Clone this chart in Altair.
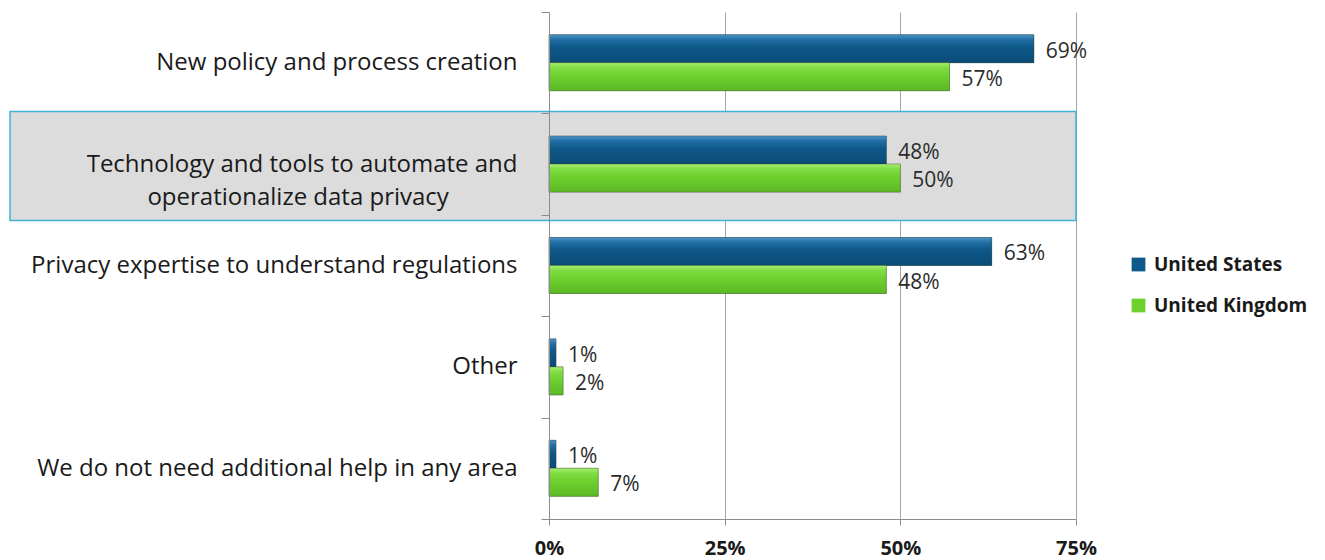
import altair as alt
import pandas as pd

categories = [
    "New policy and process creation",
    "Technology and tools to automate and|operationalize data privacy",
    "Privacy expertise to understand regulations",
    "Other",
    "We do not need additional help in any area",
]
us_values = [69, 48, 63, 1, 1]
uk_values = [57, 50, 48, 2, 7]
series = ["United States", "United Kingdom"]
colors = ["#0f5a8a", "#6fd12f"]
x_ticks = [0, 25, 50, 75]
highlight = "Technology and tools to automate and|operationalize data privacy"

rows = []
for c, u, k in zip(categories, us_values, uk_values):
    rows.append({"category": c, "series": series[0], "value": u})
    rows.append({"category": c, "series": series[1], "value": k})
df = pd.DataFrame(rows)
df["label"] = df["value"].astype(str) + "%"

FS = "\u2007"
ZW = "\u200b"
label_expr = (
    "indexof(datum.label, '|') >= 0 ? "
    "[split(datum.label, '|')[0], split(datum.label, '|')[1] + '" + FS * 5 + ZW + "'] : datum.label"
)

y_scale = alt.Scale(domain=categories, paddingInner=0, paddingOuter=0)
x_scale = alt.Scale(domain=[0, 75], nice=False)

y_axis = alt.Axis(
    title=None,
    tickBand="extent",
    tickSize=8,
    tickColor="#8c8c8c",
    domainColor="#8c8c8c",
    labelPadding=24,
    labelFont="Open Sans",
    labelFontSize=24,
    labelColor="#1a1a1a",
    labelLimit=700,
    labelExpr=label_expr,
    labelLineHeight=33,
    grid=False,
)
x_axis = alt.Axis(
    title=None,
    values=x_ticks,
    format="d",
    labelExpr="datum.value + '%'",
    labelFlush=False,
    labelOverlap=False,
    tickSize=6,
    tickColor="#8c8c8c",
    domainColor="#8c8c8c",
    gridColor="#a6a6a6",
    labelFont="Open Sans",
    labelFontSize=20,
    labelFontWeight="bold",
    labelColor="#1a1a1a",
    labelPadding=13,
)

hl_df = pd.DataFrame({"category": [highlight]})
box = alt.Chart(hl_df).mark_rect(
    fill="#dcdcdc", stroke="#3fb2d6", strokeWidth=1.5, height=109, yOffset=2
).encode(
    y=alt.Y("category:N", scale=y_scale, axis=y_axis, sort=categories),
    x=alt.value(-539),
    x2=alt.value(527),
)

yoff = alt.YOffset("series:N", sort=series,
                   scale=alt.Scale(paddingInner=0, paddingOuter=0.81))

base = alt.Chart(df)
bars = base.mark_bar(stroke="#2d3b2a", strokeOpacity=0.3, strokeWidth=1).encode(
    y=alt.Y("category:N", scale=y_scale, axis=y_axis, sort=categories),
    x=alt.X("value:Q", scale=x_scale, axis=x_axis),
    yOffset=yoff,
    color=alt.Color(
        "series:N",
        sort=series,
        scale=alt.Scale(domain=series, range=colors),
        legend=alt.Legend(
            title=None,
            orient="none",
            legendX=580,
            legendY=243,
            symbolType="square",
            symbolSize=190,
            symbolStrokeWidth=0,
            labelFont="Open Sans",
            labelFontSize=19,
            labelFontWeight="bold",
            labelColor="#1a1a1a",
            rowPadding=21,
            labelOffset=6,
        ),
    ),
)


def gradient(stops):
    return alt.Gradient(
        gradient="linear", x1=0, y1=0, x2=0, y2=1,
        stops=[alt.GradientStop(offset=o, color=c) for o, c in stops],
    )


us_grad = gradient([(0, "#4a94c8"), (0.18, "#1f6ea4"), (0.45, "#0e5888"), (1, "#0b4b76")])
uk_grad = gradient([(0, "#a8ee70"), (0.18, "#80dc44"), (0.45, "#6fd12f"), (1, "#5cb826")])

shade_layers = []
for s, g in zip(series, [us_grad, uk_grad]):
    shade_layers.append(
        base.transform_filter(alt.datum.series == s)
        .mark_bar(fill=g, stroke="#2d3b2a", strokeOpacity=0.3, strokeWidth=1)
        .encode(
            y=alt.Y("category:N", scale=y_scale, axis=y_axis, sort=categories),
            x=alt.X("value:Q", scale=x_scale, axis=x_axis),
            yOffset=yoff,
        )
    )

texts = base.mark_text(
    align="left", baseline="middle", dx=12, dy=3, font="Open Sans", fontSize=21, color="#2b2b2b"
).encode(
    y=alt.Y("category:N", scale=y_scale, axis=y_axis, sort=categories),
    x=alt.X("value:Q", scale=x_scale, axis=x_axis),
    yOffset=yoff,
    text="label:N",
)

chart = (
    alt.layer(box, bars, *shade_layers, texts)
    .properties(
        width=527,
        height=507,
        autosize=alt.AutoSizeParams(type="none"),
        padding={"left": 541, "top": 4, "right": 241, "bottom": 40},
    )
    .configure_view(stroke=None)
)

chart.save("out.html", embed_options={"renderer": "svg", "actions": False})
